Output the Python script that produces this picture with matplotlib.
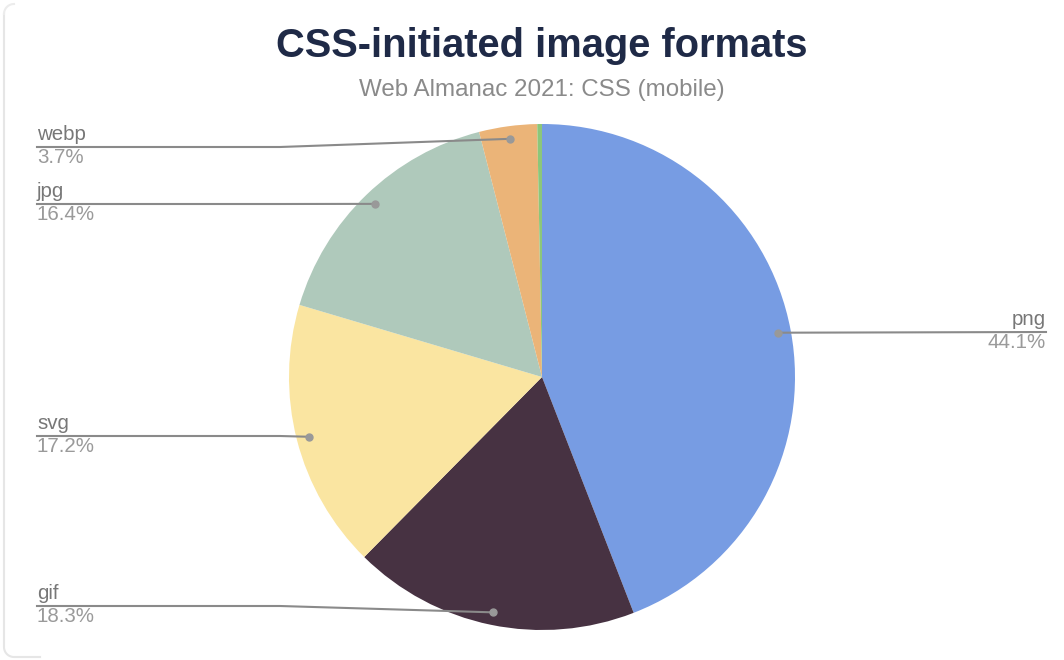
import numpy as np
import matplotlib
matplotlib.use("Agg")
from matplotlib import pyplot as plt
from matplotlib.patches import Wedge

# data
formats = ['png', 'gif', 'svg', 'jpg', 'webp', 'other']
shares = [44.1, 18.3, 17.2, 16.4, 3.7, 0.3]
colors = ['#779ce3', '#473242', '#fae5a1', '#afc9bb', '#ebb478', '#8cc67a']
##################################################

W, H = 1064, 660
fig = plt.figure(figsize=(W / 100, H / 100), dpi=100)
ax = fig.add_axes([0, 0, 1, 1])
ax.set_xlim(0, W)
ax.set_ylim(H, 0)
ax.set_aspect('equal')
ax.axis('off')

# faint left edge of the cropped card
t = np.linspace(np.pi, np.pi / 2, 20)
ax.plot(np.r_[4, 4, 14 + 10 * np.cos(t), 40], np.r_[14, 647, 647 + 10 * np.sin(t), 657],
        color='#e6e6e6', lw=1.5)
t = np.linspace(np.pi, 1.5 * np.pi, 20)
ax.plot(14 + 10 * np.cos(t), 14 + 10 * np.sin(t), color='#ececec', lw=1.5)

# pie, clockwise from 12 o'clock (y axis is inverted, so angles grow clockwise)
cx, cy, R = 542, 377, 253
total = sum(shares)
angles = []
start = -90.0
for s, c in zip(shares, colors):
    span = 360.0 * s / total
    ax.add_patch(Wedge((cx, cy), R, start, start + span, fc=c, lw=0))
    angles.append((start, start + span))
    start += span
##################################################

# leader lines + labels
lab_y = {'png': 332, 'gif': 606, 'svg': 436, 'jpg': 204, 'webp': 147}
line_c = '#8a8a8a'
fs = 14.8
for i, name in enumerate(formats[:5]):
    t1, t2 = angles[i]
    mid = np.deg2rad((t1 + t2) / 2)
    dx = cx + 0.95 * R * np.cos(mid)
    dy = cy + 0.95 * R * np.sin(mid)
    ly = lab_y[name]
    ax.plot(dx, dy, 'o', ms=5, color='#999999', zorder=5)
    pct = f'{shares[i]:.1f}%'
    if name == 'png':
        ax.plot([dx, 1046], [dy, ly], color=line_c, lw=1.5, zorder=4)
        x0, ha = 1046, 'right'
    else:
        ax.plot([37, 280, dx], [ly, ly, dy], color=line_c, lw=1.5, zorder=4)
        x0, ha = 37, 'left'
    ax.text(x0, ly - 3, name, ha=ha, va='bottom', fontsize=fs,
            color='#777777', family='Liberation Sans')
    ax.text(x0, ly + 1, pct, ha=ha, va='top', fontsize=fs,
            color='#9a9a9a', family='Liberation Sans')
##################################################

# titles
ax.text(542, 46, 'CSS-initiated image formats', ha='center', va='center',
        fontsize=28.7, fontweight='bold', color='#1f2a47',
        family='Liberation Sans')
ax.text(542, 90, 'Web Almanac 2021: CSS (mobile)', ha='center', va='center',
        fontsize=17.4, color='#8a8a8a', family='Liberation Sans')

plt.savefig('out.png', dpi=100, facecolor='white')
